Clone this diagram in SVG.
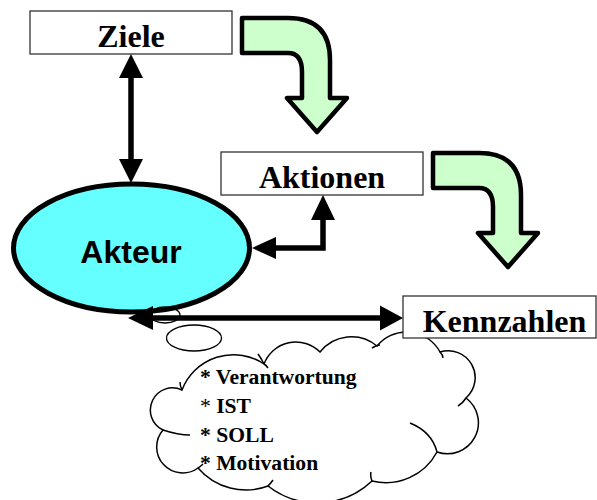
<svg xmlns="http://www.w3.org/2000/svg" width="597" height="500" viewBox="0 0 597 500">
  <style>
    .box { fill: #ffffff; stroke: #333333; stroke-width: 1.3; }
    .label { font-family: "Liberation Serif", "Times New Roman", serif; font-weight: bold; font-size: 32px; fill: #000000; text-anchor: middle; }
    .actor { font-family: "Liberation Sans", Arial, sans-serif; font-weight: bold; font-size: 32px; fill: #000000; text-anchor: middle; }
    .note { font-family: "Liberation Serif", "Times New Roman", serif; font-weight: bold; font-size: 21.6px; fill: #000000; }
    .thin { font-weight: normal; }
    .cloud { fill: #ffffff; stroke: #000000; stroke-width: 1.5; }
    .hook { fill: none; stroke: #000000; stroke-width: 1.5; }
    .flow { fill: #ccffcc; stroke: #000000; stroke-width: 4.5; stroke-linejoin: round; }
    .link { fill: none; stroke: #000000; stroke-width: 5.5; }
    .head { fill: #000000; stroke: none; }
  </style>
  <defs>
    <path id="bend" class="flow" d="M 242,18 L 288,18 Q 330,18 330,60 L 330,98 L 347,98 L 317,132 L 287,98 L 302,98 L 302,72 Q 302,53 288,53 L 242,53 Z"/>
  </defs>

  <!-- process flow arrows -->
  <g id="flow-arrows">
    <use href="#bend"/>
    <use href="#bend" transform="translate(191,135)"/>
  </g>

  <!-- thought cloud with its trailing bubbles -->
  <g id="cloud">
    <path class="cloud" d="M 182,390 A 55,55 0 0 1 264,364 A 34,34 0 0 1 320,352 A 40,40 0 0 1 377,346 A 38,38 0 0 1 440,352 A 27,27 0 0 1 466,398 A 31,31 0 0 1 437,452 A 58,58 0 0 1 372,481 A 80,80 0 0 1 268,486 A 63,63 0 0 1 198,468 A 26,26 0 0 1 163,430 A 22,22 0 0 1 182,390 Z"/>
    <path class="hook" d="M 182,390 q -2,-4 -2,-8 M 264,364 q 2,1 4,4 M 258,354 q 3,4 6,10 M 372,348 q 5,-3 8,-3 M 440,352 q 3,3 3,6 M 466,398 q -3,5 -8,8 M 437,452 Q 432,432 410,423 M 372,481 q -2,-5 -1,-9 M 268,486 q 3,-3 5,-6 M 198,468 q 3,-2 5,-4 M 163,430 q 15,5 27,5"/>
    <text class="note" x="200" y="384">* Verantwortung</text>
    <text class="note" x="200" y="413"><tspan class="thin">*</tspan> IST</text>
    <text class="note" x="200" y="442">* SOLL</text>
    <text class="note" x="200" y="470">* Motivation</text>
  </g>

  <g id="akteur">
    <ellipse cx="131.5" cy="248" rx="118" ry="64" fill="#66ffff" stroke="#000000" stroke-width="5"/>
    <text class="actor" x="131" y="263">Akteur</text>
  </g>

  <g id="bubbles">
    <ellipse cx="165" cy="315" rx="15" ry="8" fill="none" stroke="#000000" stroke-width="1.3"/>
    <ellipse cx="194" cy="338" rx="27.5" ry="13" fill="#ffffff" stroke="#000000" stroke-width="1.3"/>
  </g>

  <g id="ziele">
    <rect class="box" x="30" y="11" width="202" height="43"/>
    <text class="label" x="131" y="47">Ziele</text>
  </g>

  <g id="aktionen">
    <rect class="box" x="221" y="152" width="202" height="43"/>
    <text class="label" x="322" y="188">Aktionen</text>
  </g>

  <g id="kennzahlen">
    <rect class="box" x="403" y="296" width="193" height="42"/>
    <text class="label" x="504.5" y="332">Kennzahlen</text>
  </g>

  <!-- connectors -->
  <g id="connectors">
    <line class="link" x1="131" y1="76" x2="131" y2="161"/>
    <polygon class="head" points="131,54 143,78 119,78"/>
    <polygon class="head" points="131,183 119,159 143,159"/>

    <polyline class="link" points="323,218 323,248 274,248"/>
    <polygon class="head" points="323,195 335,220 311,220"/>
    <polygon class="head" points="252,248 276,237 276,259"/>

    <line class="link" x1="151" y1="318" x2="382" y2="318"/>
    <polygon class="head" points="403,318 380,305.5 380,330.5"/>
    <polygon class="head" points="128,318 153,306 153,330"/>
  </g>
</svg>
